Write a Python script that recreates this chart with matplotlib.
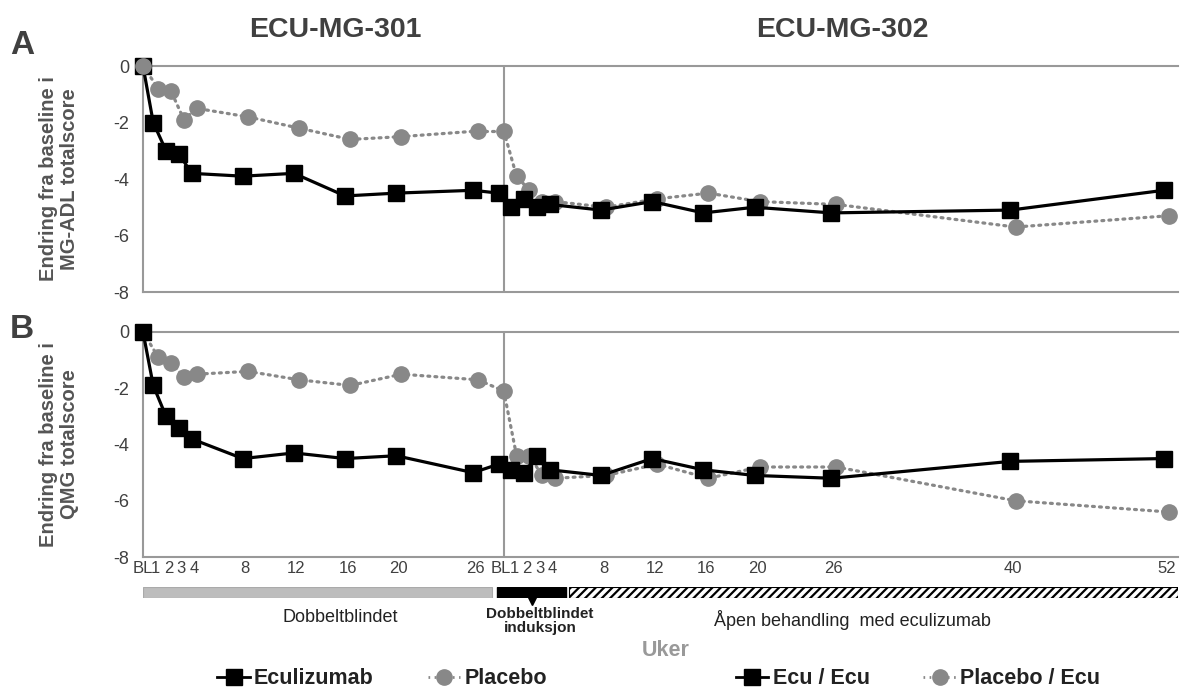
import matplotlib
matplotlib.use("Agg")
import matplotlib.pyplot as plt
import numpy as np
from matplotlib.lines import Line2D

plt.rcParams['font.family'] = ['Liberation Sans', 'DejaVu Sans']
plt.rcParams['hatch.linewidth'] = 1.6

# weeks in each study
weeks_301 = [0, 1, 2, 3, 4, 8, 12, 16, 20, 26]
weeks_302 = [0, 1, 2, 3, 4, 8, 12, 16, 20, 26, 40, 52]
labels_301 = ["BL", "1", "2", "3", "4", "8", "12", "16", "20", "26"]
labels_302 = ["BL", "1", "2", "3", "4", "8", "12", "16", "20", "26", "40", "52"]

# Panel A: MG-ADL
adl_ecu_301 = [0, -2.0, -3.0, -3.1, -3.8, -3.9, -3.8, -4.6, -4.5, -4.4]
adl_pla_301 = [0, -0.8, -0.9, -1.9, -1.5, -1.8, -2.2, -2.6, -2.5, -2.3]
adl_ecu_302 = [-4.5, -5.0, -4.7, -5.0, -4.9, -5.1, -4.8, -5.2, -5.0, -5.2, -5.1, -4.4]
adl_pla_302 = [-2.3, -3.9, -4.4, -4.8, -4.8, -5.0, -4.7, -4.5, -4.8, -4.9, -5.7, -5.3]

# Panel B: QMG
qmg_ecu_301 = [0, -1.9, -3.0, -3.4, -3.8, -4.5, -4.3, -4.5, -4.4, -5.0]
qmg_pla_301 = [0, -0.9, -1.1, -1.6, -1.5, -1.4, -1.7, -1.9, -1.5, -1.7]
qmg_ecu_302 = [-4.7, -4.9, -5.0, -4.4, -4.9, -5.1, -4.5, -4.9, -5.1, -5.2, -4.6, -4.5]
qmg_pla_302 = [-2.1, -4.4, -4.4, -5.1, -5.2, -5.1, -4.7, -5.2, -4.8, -4.8, -6.0, -6.4]

OFFSET = 28  # study 302 baseline sits after week 26 of study 301
DODGE = 0.2
GREY = '#888888'
TXT = '#404040'
DOT = (0, (0.6, 1.6))

x301 = np.asarray(weeks_301, dtype=float)
x302 = np.asarray(weeks_302, dtype=float) + OFFSET


def dodge(x, d):
    return np.where(x == 0, 0, x + d)


def draw_panel(ax, ecu1, pla1, ecu2, pla2, ylabel, pla_on_top=False):
    kw_e = dict(color='black', lw=2.3, marker='s', markersize=11.5, clip_on=False, zorder=4)
    kw_p = dict(color=GREY, lw=2.3, ls=DOT, marker='o', markersize=11,
                clip_on=False, zorder=3, dash_capstyle='round')
    ax.plot(dodge(x301, DODGE), pla1, **kw_p)
    ax.plot(dodge(x302, DODGE), pla2, **kw_p)
    ax.plot(dodge(x301, -DODGE), ecu1, **kw_e)
    ax.plot(dodge(x302, -DODGE), ecu2, **kw_e)
    ax.plot([dodge(x301, DODGE)[-1], dodge(x302, DODGE)[0]], [pla1[-1], pla2[0]],
            color=GREY, lw=2.3, ls=DOT, dash_capstyle='round', zorder=3)
    ax.plot([dodge(x301, -DODGE)[-1], dodge(x302, -DODGE)[0]], [ecu1[-1], ecu2[0]],
            color='black', lw=2.3, zorder=4)
    if pla_on_top:
        ax.plot([0], [pla1[0]], marker='o', markersize=11, color=GREY, clip_on=False, zorder=5)
    ax.axvline(OFFSET + 0.2, color='#999999', lw=1.5, zorder=1)
    ax.set_xlim(0, 80.9)
    ax.set_ylim(-8, 0)
    ax.set_yticks([0, -2, -4, -6, -8])
    ax.set_yticklabels(["0", "-2", "-4", "-6", "-8"], fontsize=13, color=TXT)
    ax.tick_params(axis='y', length=0, pad=10)
    ax.tick_params(axis='x', length=0)
    for s in ['left', 'top', 'bottom']:
        ax.spines[s].set_color('#999999')
        ax.spines[s].set_linewidth(1.5)
    ax.spines['right'].set_visible(False)
    ax.set_ylabel(ylabel, fontsize=14.5, fontweight='bold', color='#555555',
                  linespacing=1.1)


fig = plt.figure(figsize=(11.8, 6.92), dpi=100)
axA = fig.add_axes([143 / 1180, 1 - 292 / 692, 1035 / 1180, 226 / 692])
axB = fig.add_axes([143 / 1180, 1 - 557 / 692, 1035 / 1180, 225 / 692])

draw_panel(axA, adl_ecu_301, adl_pla_301, adl_ecu_302, adl_pla_302,
           "Endring fra baseline i\nMG-ADL totalscore", pla_on_top=True)
draw_panel(axB, qmg_ecu_301, qmg_pla_301, qmg_ecu_302, qmg_pla_302,
           "Endring fra baseline i\nQMG totalscore")
axA.set_xticks([])
axB.set_xticks(np.concatenate([x301, x302]))
axB.set_xticklabels(labels_301 + labels_302, fontsize=12, color=TXT)
axB.tick_params(axis='x', pad=3)
axA.yaxis.set_label_coords(-0.062, 0.5)
axB.yaxis.set_label_coords(-0.062, 0.5)

# study phase strip under the x axis
axS = fig.add_axes([143 / 1180, 1 - 598 / 692, 1035 / 1180, 11 / 692], sharex=axB)
axS.barh(0, 27.3, left=0, height=1, color='#bdbdbd', edgecolor='#aaaaaa', lw=0.8)
axS.barh(0, 5.4, left=27.7, height=1, color='black', edgecolor='black')
axS.barh(0, 80.9 - 33.3, left=33.3, height=1, color='white', edgecolor='black',
         hatch='////', lw=0.8)
axS.plot([30.4], [-0.75], marker='v', markersize=6, color='black', clip_on=False)
axS.set_ylim(-0.5, 0.5)
axS.axis('off')

fig.text(340 / 1180, 1 - 618 / 692, "Dobbeltblindet", ha='center', va='center',
         fontsize=13, color='#222222')
fig.text(540 / 1180, 1 - 621 / 692, "Dobbeltblindet\ninduksjon", ha='center', va='center',
         fontsize=11, fontweight='bold', color='#222222', linespacing=1.0)
fig.text(852 / 1180, 1 - 620 / 692, "Åpen behandling  med eculizumab", ha='center',
         va='center', fontsize=13, color='#222222')
fig.text(666 / 1180, 1 - 651 / 692, "Uker", ha='center', va='center', fontsize=15.5,
         fontweight='bold', color='#999999')

fig.text(335 / 1180, 1 - 30 / 692, "ECU-MG-301", ha='center', va='center', fontsize=20.5,
         fontweight='bold', color=TXT)
fig.text(842 / 1180, 1 - 30 / 692, "ECU-MG-302", ha='center', va='center', fontsize=20.5,
         fontweight='bold', color=TXT)
fig.text(22 / 1180, 1 - 46 / 692, "A", ha='center', va='center', fontsize=24,
         fontweight='bold', color=TXT)
fig.text(22 / 1180, 1 - 330 / 692, "B", ha='center', va='center', fontsize=24,
         fontweight='bold', color=TXT)

h_e = Line2D([], [], color='black', lw=2, marker='s', markersize=11)
h_p = Line2D([], [], color=GREY, lw=2, ls=DOT, marker='o', markersize=11)
leg_kw = dict(ncol=2, frameon=False, handlelength=1.5, handletextpad=0.2, columnspacing=2.5,
              prop={'weight': 'bold', 'size': 15.5}, loc='center')
leg1 = fig.legend([h_e, h_p], ["Eculizumab", "Placebo"], bbox_to_anchor=(382 / 1180, 1 - 679 / 692),
                  **leg_kw)
for t in leg1.get_texts():
    t.set_color('#222222')
leg2 = fig.legend([h_e, h_p], ["Ecu / Ecu", "Placebo / Ecu"],
                  bbox_to_anchor=(918 / 1180, 1 - 679 / 692), **leg_kw)
for t in leg2.get_texts():
    t.set_color('#222222')

fig.savefig('out.png', dpi=100)
